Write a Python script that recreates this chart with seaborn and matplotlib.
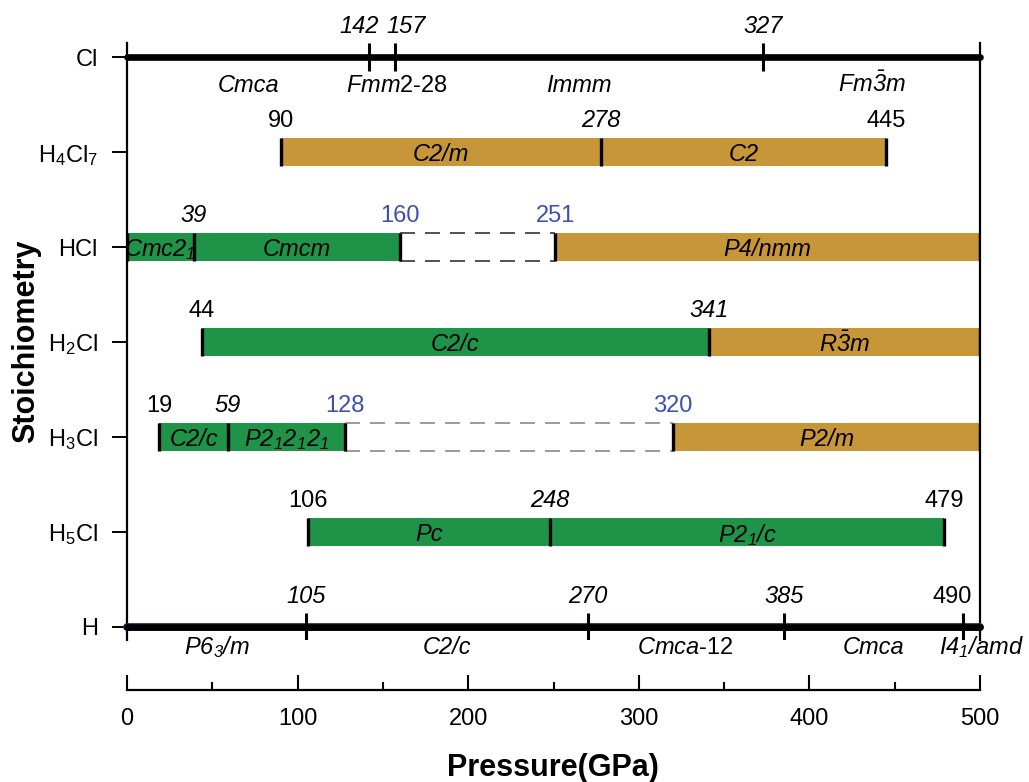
import matplotlib
matplotlib.use('Agg')
import matplotlib.pyplot as plt
import seaborn as sns

# stoichiometry rows, top to bottom
rows = ['Cl', 'H$_4$Cl$_7$', 'HCl', 'H$_2$Cl', 'H$_3$Cl', 'H$_5$Cl', 'H']

# pure elements (lines) - transition pressures, GPa
cl_press = [0, 142, 157, 327, 500]
cl_marks = [0, 142, 157, 373, 500]   # the 327 transition is drawn at ~373 in the original
cl_phases = ['Cmca', r'$\mathit{Fmm}$2-28', 'Immm', r'Fm$\bar{3}$m']
cl_lab = [None, 'i', 'i', 'i', None]

h_press = [0, 105, 270, 385, 490, 500]
h_phases = ['P6$_3$/m', 'C2/c', r'$\mathit{Cmca}$-12', 'Cmca', 'I4$_1$/amd']
h_lab = [None, 'i', 'i', 'i', 'n', None]

# compounds (bars) - boundaries, phase names, segment kind, label style
h4cl7_press = [90, 278, 445]
h4cl7_phases = ['C2/m', 'C2']
h4cl7_kind = ['hi', 'hi']
h4cl7_lab = ['n', 'i', 'n']

hcl_press = [0, 39, 160, 251, 500]
hcl_phases = ['Cmc2$_1$', 'Cmcm', '', 'P4/nmm']
hcl_kind = ['lo', 'lo', 'gap', 'hi']
hcl_lab = [None, 'i', 'b', 'b', None]

h2cl_press = [44, 341, 500]
h2cl_phases = ['C2/c', r'R$\bar{3}$m']
h2cl_kind = ['lo', 'hi']
h2cl_lab = ['n', 'i', None]

h3cl_press = [19, 59, 128, 320, 500]
h3cl_phases = ['C2/c', 'P2$_1$2$_1$2$_1$', '', 'P2/m']
h3cl_kind = ['lo', 'lo', 'gap2', 'hi']
h3cl_lab = ['n', 'i', 'b', 'b', None]

h5cl_press = [106, 248, 479]
h5cl_phases = ['Pc', 'P2$_1$/c']
h5cl_kind = ['lo', 'lo']
h5cl_lab = ['n', 'i', 'n']

seg_color = {'lo': '#1f9448', 'hi': '#c79638', 'gap': '#333333', 'gap2': '#8a8a8a'}
lab_style = {'n': ('normal', 'black'), 'i': ('italic', 'black'), 'b': ('normal', '#3d4fb0')}

sns.set_theme(style='white')
plt.rcParams['font.family'] = ['Liberation Sans', 'DejaVu Sans']
plt.rcParams['mathtext.default'] = 'regular'
plt.rcParams['mathtext.fontset'] = 'custom'
plt.rcParams['mathtext.rm'] = 'Liberation Sans'
plt.rcParams['mathtext.it'] = 'Liberation Sans:italic'
plt.rcParams['text.color'] = 'black'
plt.rcParams['axes.labelcolor'] = 'black'

fig = plt.figure(figsize=(10.29, 7.82), dpi=100)
ax = fig.add_axes([127/1029, 1-640/782, 853/1029, 597/782])
ax.set_xlim(0, 500)
ax.set_ylim(-0.14, 6.15)
fs = 17
bh = 0.29
ypos = list(range(len(rows)))[::-1]

def phase_style(name):
    # names with an explicit italic part keep the rest upright
    return 'normal' if 'mathit' in name else 'italic'

def num_labels(marks, vals, labs, y):
    for j, (m, v, st) in enumerate(zip(marks, vals, labs)):
        if st is None:
            continue
        style, col = lab_style[st]
        ha, x = 'center', m
        # split labels of close transitions
        if j + 1 < len(marks) and marks[j + 1] - m < 25:
            ha, x = 'right', m + 5.5
        elif j > 0 and m - marks[j - 1] < 25:
            ha, x = 'left', m - 5
        ax.text(x, y + 0.26, str(v), ha=ha, va='baseline', fontsize=fs,
                style=style, color=col)

# element lines
for y, press, marks, phases, labs, below in [
        (ypos[0], cl_press, cl_marks, cl_phases, cl_lab, 0.37),
        (ypos[-1], h_press, h_press, h_phases, h_lab, 0.29)]:
    if y == 0:
        ax.plot([0, 500], [y, y], color='#2a2a70', lw=5.6, solid_capstyle='round', clip_on=False, zorder=3)
    ax.plot([0, 500], [y, y], color='black', lw=4.8, solid_capstyle='round', clip_on=False, zorder=3)
    ax.vlines(marks[1:-1], y - 0.14, y + 0.145, color='black', lw=2.2, zorder=4)
    num_labels(marks, press, labs, y - 0.005)
    for i, name in enumerate(phases):
        a, b = marks[i], marks[i + 1]
        xm = (a + b) / 2 if b - a > 30 else b + 1
        ax.text(xm, y - below, name, ha='center', va='baseline', fontsize=fs,
                style=phase_style(name))

# compound bars
comps = [(h4cl7_press, h4cl7_phases, h4cl7_kind, h4cl7_lab),
         (hcl_press, hcl_phases, hcl_kind, hcl_lab),
         (h2cl_press, h2cl_phases, h2cl_kind, h2cl_lab),
         (h3cl_press, h3cl_phases, h3cl_kind, h3cl_lab),
         (h5cl_press, h5cl_phases, h5cl_kind, h5cl_lab)]
for y, (press, phases, kinds, labs) in zip(ypos[1:-1], comps):
    for i, (name, k) in enumerate(zip(phases, kinds)):
        a, b = press[i], press[i + 1]
        if k.startswith('gap'):
            ax.hlines([y - bh/2, y + bh/2], a, b, color=seg_color[k], lw=1.2,
                      linestyles=(0, (9, 6)), zorder=2)
        else:
            ax.barh(y, b - a, left=a, height=bh, color=seg_color[k], edgecolor='none', zorder=2)
            ax.text((a + b) / 2, y, name, ha='center', va='center_baseline',
                    fontsize=fs, style=phase_style(name), zorder=5)
    ax.vlines(press, y - bh/2, y + bh/2, color='black', lw=2.4, zorder=4)
    num_labels(press, press, labs, y)

ax.set_yticks(ypos)
ax.set_yticklabels(rows, fontsize=fs)
ax.set_xticks([])
ax.tick_params(axis='y', direction='out', length=11, width=1.4, pad=10, left=True, colors='black')
sns.despine(ax=ax, top=True, bottom=True, left=False, right=False)
for s in ['left', 'right']:
    ax.spines[s].set_color('black')
    ax.spines[s].set_linewidth(1.6)

# separate pressure axis below
ax2 = fig.add_axes([127/1029, 1-690/782, 853/1029, 0.001])
ax2.set_xlim(0, 500)
ax2.set_yticks([])
ax2.set_xticks(range(0, 501, 100))
ax2.set_xticks(range(50, 500, 100), minor=True)
ax2.tick_params(axis='x', which='major', direction='in', length=11, width=1.5, pad=13,
                labelsize=fs, bottom=True, colors='black')
ax2.tick_params(axis='x', which='minor', direction='in', length=6, width=1.5, bottom=True, colors='black')
ax2.patch.set_alpha(0)
sns.despine(ax=ax2, left=True, top=True, right=True)
ax2.spines['bottom'].set_color('black')
ax2.spines['bottom'].set_linewidth(1.6)

fig.text(553/1029, 1-776/782, 'Pressure(GPa)', ha='center', va='baseline',
         fontsize=22, fontweight='bold')
fig.text(26/1029, 1-341/782, 'Stoichiometry', ha='center', va='center',
         rotation=90, fontsize=22, fontweight='bold')

fig.savefig('out.png', dpi=100)
